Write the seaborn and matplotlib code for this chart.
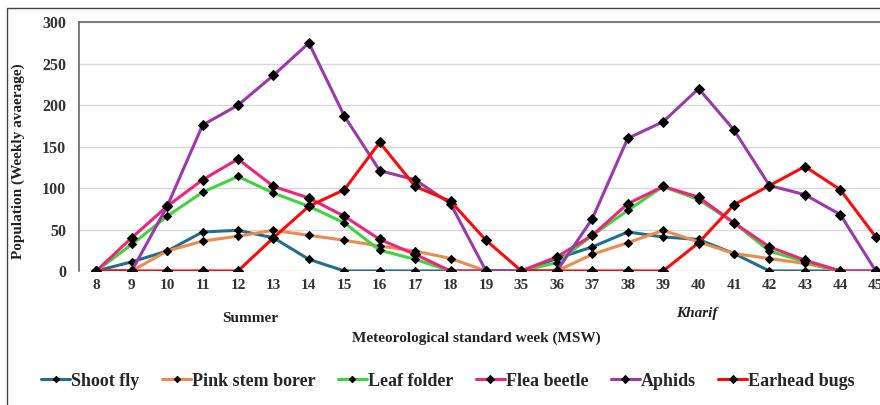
import numpy as np
import pandas as pd
import matplotlib.pyplot as plt
from matplotlib.patches import Rectangle
import seaborn as sns

# ---------------- data ----------------
weeks = ["8", "9", "10", "11", "12", "13", "14", "15", "16", "17", "18", "19",
         "35", "36", "37", "38", "39", "40", "41", "42", "43", "44", "45"]

shoot_fly = [0, 11, 24, 47, 49, 40, 14, 0, 0, 0, 0, 0,
             0, 15, 29, 47, 41, 38, 21, 0, 0, 0, 0]
pink_stem_borer = [0, 0, 24, 36, 42, 49, 43, 37, 30, 24, 15, 0,
                   0, 0, 20, 34, 49, 35, 21, 15, 9, 0, 0]
leaf_folder = [0, 32, 66, 95, 114, 94, 78, 58, 25, 14, 0, 0,
               0, 10, 43, 73, 102, 86, 58, 24, 11, 0, 0]
flea_beetle = [0, 40, 78, 110, 135, 102, 88, 66, 38, 20, 0, 0,
               0, 17, 43, 81, 102, 89, 58, 29, 13, 0, 0]
aphids = [0, 0, 78, 176, 200, 236, 275, 187, 121, 110, 81, 0,
          0, 0, 63, 160, 180, 220, 170, 103, 92, 68, 0]
earhead_bugs = [0, 0, 0, 0, 0, 40, 78, 98, 155, 102, 84, 37,
                0, 0, 0, 0, 0, 34, 80, 103, 126, 98, 41]

series_names = ["Shoot fly", "Pink stem borer", "Leaf folder",
                "Flea beetle", "Aphids", "Earhead bugs"]
series_values = [shoot_fly, pink_stem_borer, leaf_folder,
                 flea_beetle, aphids, earhead_bugs]
series_colors = ["#236e8e", "#ee8a4c", "#3fd33f", "#f2237b", "#9a3aab", "#ff0a0a"]
marker_sizes = [4, 4, 4, 5.5, 5.5, 5.5]

# long format table for seaborn
pos = np.arange(len(weeks))
frames = []
for name, vals in zip(series_names, series_values):
    frames.append(pd.DataFrame({"pos": pos, "value": vals, "series": name}))
data = pd.concat(frames, ignore_index=True)

# ---------------- style ----------------
sns.set_theme(style="white")
plt.rcParams["font.family"] = ["Liberation Serif", "DejaVu Serif"]
plt.rcParams["font.weight"] = "bold"

fig = plt.figure(figsize=(8.8, 4.05), dpi=100)
ax = fig.add_axes([0.0893, 0.331, 0.926, 0.614])

for name, color, ms in zip(series_names, series_colors, marker_sizes):
    sns.lineplot(
        data=data[data["series"] == name], x="pos", y="value",
        ax=ax, color=color, linewidth=2.2, label=name,
        marker="D", markersize=ms, markerfacecolor="black",
        markeredgecolor="black", sort=False,
    )

ax.set_xlim(-0.5, len(weeks) - 0.5)
ax.set_ylim(0, 300)
ax.set_yticks(np.arange(0, 301, 50))
ax.set_xticks(pos)
ax.set_xticklabels(weeks)
ax.tick_params(axis="x", labelsize=11, pad=6, length=0)
ax.tick_params(axis="y", labelsize=11.5, pad=9, length=0)
for lab in ax.get_xticklabels() + ax.get_yticklabels():
    lab.set_fontweight("bold")
    lab.set_color("#333333")

ax.yaxis.grid(True, color="#d9d9d9", linewidth=1)
ax.set_axisbelow(True)
for side in ["left", "top"]:
    ax.spines[side].set_color("#666666")
    ax.spines[side].set_linewidth(1.2)
ax.spines["bottom"].set_visible(False)
ax.spines["right"].set_visible(False)

ax.set_xlabel("")
ax.set_ylabel("Population (Weekly avaerage)", fontsize=11, fontweight="bold",
              color="#222222")
ax.yaxis.set_label_coords(-0.066, 0.44)

# season labels and axis title
fig.text(250 / 880, 1 - 319 / 405, "Summer", ha="center", va="center",
         fontsize=11, fontweight="bold", color="#222222")
fig.text(697 / 880, 1 - 313 / 405, "Kharif", ha="center", va="center",
         fontsize=11, fontweight="bold", style="italic", color="#222222")
fig.text(476 / 880, 1 - 338 / 405, "Meteorological standard week (MSW)",
         ha="center", va="center", fontsize=11, fontweight="bold", color="#222222")

# legend below
ax.legend(
    loc="center", bbox_to_anchor=(448 / 880, 1 - 381 / 405),
    bbox_transform=fig.transFigure, ncol=6, frameon=False,
    prop={"size": 13, "weight": "bold"}, handlelength=1.6,
    handletextpad=0.05, columnspacing=1.25, markerscale=0.8,
)

# outer frame
fig.patches.append(Rectangle((7 / 880, -0.1), 1.2, 1.1 - 8 / 405,
                             transform=fig.transFigure, fill=False,
                             edgecolor="#444444", linewidth=1))

fig.savefig("out.png", dpi=100)
